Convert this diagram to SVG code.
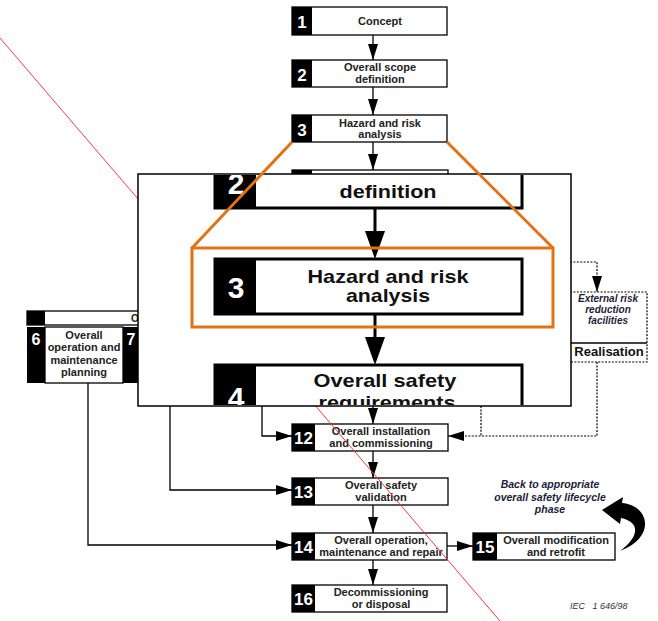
<svg xmlns="http://www.w3.org/2000/svg" width="658" height="621" viewBox="0 0 658 621">
<style>
.bx{fill:#fff;stroke:#000;stroke-width:1.3}
.nb{fill:#000}
.t{font-family:"Liberation Sans",Arial,sans-serif;font-weight:bold;font-size:11px;fill:#222;text-anchor:middle}
.n{font-family:"Liberation Sans",Arial,sans-serif;font-weight:bold;font-size:17px;fill:#fff;text-anchor:middle}
.ln{stroke:#000;stroke-width:1.3;fill:none}
.dl{stroke:#000;stroke-width:1.2;stroke-dasharray:2 1.4;fill:none}
.it{font-family:"Liberation Sans",Arial,sans-serif;font-weight:bold;font-style:italic;font-size:10.5px;fill:#1c1c3a;text-anchor:middle}
.bt{font-family:"Liberation Sans",Arial,sans-serif;font-weight:bold;font-size:19px;fill:#111;text-anchor:middle}
.bn{font-family:"Liberation Sans",Arial,sans-serif;font-weight:bold;font-size:30px;fill:#fff;text-anchor:middle}
.ib{fill:#fff;stroke:#000;stroke-width:3}
.or{stroke:#e27212;stroke-width:3;fill:none}
</style>
<defs>
<marker id="ah" viewBox="0 0 16 10" refX="16" refY="5" markerWidth="16" markerHeight="10" markerUnits="userSpaceOnUse" orient="auto"><path d="M0,0 L16,5 L0,10 Z" fill="#000"/></marker>
<clipPath id="inset"><rect x="139" y="175" width="431" height="230"/></clipPath>
</defs>
<rect width="658" height="621" fill="#fff"/>

<g id="n1"><rect class="bx" x="292" y="7" width="155" height="28"/><rect class="nb" x="292" y="7" width="20" height="28"/><text class="n" x="302" y="28">1</text><text class="t" x="380" y="25">Concept</text></g>
<g id="n2"><rect class="bx" x="292" y="60" width="155" height="27"/><rect class="nb" x="292" y="60" width="20" height="27"/><text class="n" x="302" y="81">2</text><text class="t" x="380" y="71">Overall scope</text><text class="t" x="380" y="83">definition</text></g>
<g id="n3"><rect class="bx" x="292" y="115" width="155" height="27"/><rect class="nb" x="292" y="115" width="20" height="27"/><text class="n" x="302" y="136">3</text><text class="t" x="380" y="127">Hazard and risk</text><text class="t" x="380" y="138">analysis</text></g>
<g id="n4"><rect class="bx" x="292" y="170" width="156" height="12"/><rect class="nb" x="292" y="170" width="20" height="12"/></g>

<g id="n6">
<rect class="bx" x="27" y="311" width="133" height="14"/><rect class="nb" x="27" y="311" width="18" height="14"/>
<text class="t" x="131" y="322" style="text-anchor:start;font-size:10px">O</text>
<rect class="nb" x="27" y="327" width="133" height="56"/>
<rect class="bx" x="45" y="327" width="78" height="56"/>
<text class="n" x="36" y="345" style="font-size:16px">6</text>
<text class="n" x="131" y="345" style="font-size:16px">7</text>
<text class="t" x="84" y="339">Overall</text><text class="t" x="84" y="351">operation and</text><text class="t" x="84" y="364">maintenance</text><text class="t" x="84" y="376">planning</text>
</g>

<g id="ext">
<rect class="dl" x="570" y="292" width="77" height="70" style="fill:#fff"/>
<line x1="570" y1="343" x2="647" y2="343" stroke="#000" stroke-width="1.3"/>
<text class="it" x="608" y="302" style="font-size:10px">External risk</text><text class="it" x="608" y="313" style="font-size:10px">reduction</text><text class="it" x="608" y="324" style="font-size:10px">facilities</text>
<text class="t" x="609" y="356" style="font-size:13px;fill:#111">Realisation</text>
</g>

<g id="n12"><rect class="bx" x="292" y="424" width="156" height="27"/><rect class="nb" x="292" y="424" width="23" height="27"/><text class="n" x="303.5" y="444">12</text><text class="t" x="381" y="435">Overall installation</text><text class="t" x="381" y="447">and commissioning</text></g>
<g id="n13"><rect class="bx" x="292" y="478" width="156" height="27"/><rect class="nb" x="292" y="478" width="23" height="27"/><text class="n" x="303.5" y="498">13</text><text class="t" x="381" y="489">Overall safety</text><text class="t" x="381" y="501">validation</text></g>
<g id="n14"><rect class="bx" x="292" y="533" width="155" height="27"/><rect class="nb" x="292" y="533" width="23" height="27"/><text class="n" x="303.5" y="553">14</text><text class="t" x="381" y="544">Overall operation,</text><text class="t" x="381" y="556">maintenance and repair</text></g>
<g id="n15"><rect class="bx" x="473" y="533" width="142" height="27"/><rect class="nb" x="473" y="533" width="24" height="27"/><text class="n" x="485" y="553">15</text><text class="t" x="556" y="544">Overall modification</text><text class="t" x="556" y="556">and retrofit</text></g>
<g id="n16"><rect class="bx" x="292" y="585" width="155" height="27"/><rect class="nb" x="292" y="585" width="23" height="27"/><text class="n" x="303.5" y="605">16</text><text class="t" x="381" y="596">Decommissioning</text><text class="t" x="381" y="608">or disposal</text></g>

<g id="connectors">
<line class="ln" x1="373" y1="35" x2="373" y2="60" marker-end="url(#ah)"/>
<line class="ln" x1="373" y1="87" x2="373" y2="115" marker-end="url(#ah)"/>
<line class="ln" x1="373" y1="142" x2="373" y2="170" marker-end="url(#ah)"/>
<line class="ln" x1="373" y1="406" x2="373" y2="424" marker-end="url(#ah)"/>
<line class="ln" x1="373" y1="451" x2="373" y2="478" marker-end="url(#ah)"/>
<line class="ln" x1="373" y1="505" x2="373" y2="533" marker-end="url(#ah)"/>
<line class="ln" x1="373" y1="560" x2="373" y2="585" marker-end="url(#ah)"/>
<path class="ln" d="M262,406 V436 H292" marker-end="url(#ah)"/>
<path class="ln" d="M170,406 V490 H292" marker-end="url(#ah)"/>
<path class="ln" d="M88,383 V545 H292" marker-end="url(#ah)"/>
<line class="ln" x1="447" y1="546" x2="473" y2="546" marker-end="url(#ah)"/>
<path class="dl" d="M570,262 H597 V292" marker-end="url(#ah)"/>
<path class="dl" d="M597,362 V436 H448" marker-end="url(#ah)"/>
<path class="dl" d="M481,406 V436"/>
<path d="M602,510 L623,497 L622,503 C648,505 658,536 620,551 C640,536 640,522 621,518 L620,524 Z" fill="#000"/>
</g>

<g id="notes">
<text class="it" x="550" y="488">Back to appropriate</text>
<text class="it" x="550" y="501">overall safety lifecycle</text>
<text class="it" x="550" y="513">phase</text>
<text x="570" y="609" style="font-family:'Liberation Sans',Arial,sans-serif;font-style:italic;font-size:9px;fill:#333" xml:space="preserve">IEC   1 646/98</text>
</g>

<line id="redline" x1="0" y1="38" x2="500" y2="621" stroke="#ee3a48" stroke-width="1"/>

<g id="inset-view">
<rect x="138" y="174" width="433" height="232" fill="#fff" stroke="#000" stroke-width="1.5"/>
<g clip-path="url(#inset)">
<g id="i2"><rect class="ib" x="215" y="140" width="307" height="68"/><rect class="nb" x="215" y="140" width="41" height="68"/><text class="bn" x="236" y="194">2</text><text class="bt" x="388" y="170" textLength="135" lengthAdjust="spacingAndGlyphs">Overall scope</text><text class="bt" x="388" y="198" textLength="97" lengthAdjust="spacingAndGlyphs">definition</text></g>
<g id="i3"><rect class="ib" x="215" y="259" width="307" height="55"/><rect class="nb" x="215" y="259" width="41" height="55"/><text class="bn" x="236" y="298">3</text><text class="bt" x="388" y="283" textLength="161" lengthAdjust="spacingAndGlyphs">Hazard and risk</text><text class="bt" x="388" y="302" textLength="84" lengthAdjust="spacingAndGlyphs">analysis</text></g>
<g id="i4"><rect class="ib" x="215" y="365" width="307" height="70"/><rect class="nb" x="215" y="365" width="41" height="70"/><text class="bn" x="236" y="408">4</text><text class="bt" x="385" y="387" textLength="143" lengthAdjust="spacingAndGlyphs">Overall safety</text><text class="bt" x="387" y="409" textLength="137" lengthAdjust="spacingAndGlyphs">requirements</text></g>
<g id="inset-connectors">
<line x1="375" y1="208" x2="375" y2="235" stroke="#000" stroke-width="3"/><polygon points="365,231 385,231 375,259" fill="#000"/>
<line x1="375" y1="314" x2="375" y2="340" stroke="#000" stroke-width="3"/><polygon points="365,337 385,337 375,365" fill="#000"/>
</g>
</g>
</g>

<g id="zoom-highlight">
<line class="or" x1="292" y1="142" x2="192" y2="248"/>
<line class="or" x1="447" y1="142" x2="553" y2="248"/>
<rect class="or" x="192" y="248" width="361" height="79"/>
</g>
</svg>
